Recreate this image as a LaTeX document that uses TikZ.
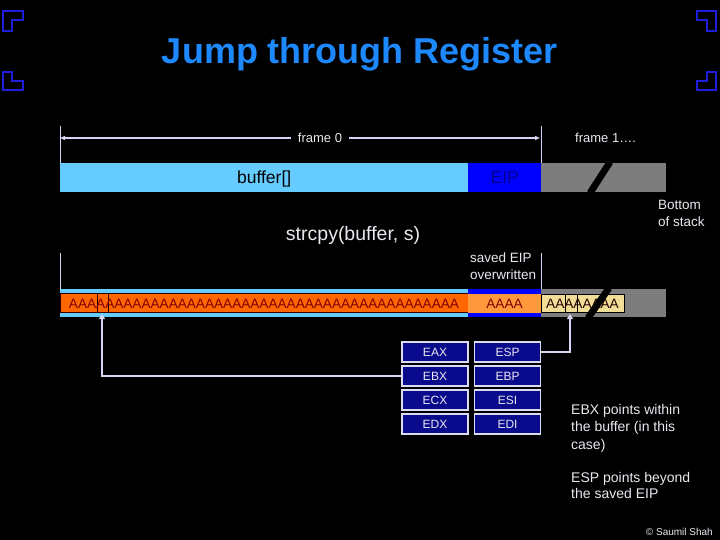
\documentclass[tikz,border=0pt]{standalone}
\usepackage{fontspec}
\setmainfont{Liberation Sans}
\usetikzlibrary{arrows.meta}
\definecolor{titleblue}{RGB}{30,136,255}
\definecolor{cornerblue}{RGB}{30,30,220}
\definecolor{lightblue}{RGB}{102,204,255}
\definecolor{eipblue}{RGB}{0,0,255}
\definecolor{eiptext}{RGB}{0,0,140}
\definecolor{stackgray}{RGB}{125,125,125}
\definecolor{orangeA}{RGB}{255,102,0}
\definecolor{orangeB}{RGB}{255,153,60}
\definecolor{yellowA}{RGB}{240,222,150}
\definecolor{redtext}{RGB}{128,0,0}
\definecolor{lavender}{RGB}{212,212,244}
\definecolor{regfill}{RGB}{10,10,140}
\definecolor{regline}{RGB}{220,220,240}
\definecolor{softwhite}{RGB}{232,232,240}
\tikzset{
  corner/.style={draw=cornerblue, line width=2pt, line join=miter},
  lbl/.style={inner sep=0pt, text depth=0pt, text=softwhite},
  fs/.style={font=\fontsize{#1}{#1}\selectfont, text height=#1*0.72pt},
  cell/.style={inner sep=0pt, anchor=north west, draw=none},
  abox/.style={draw=black!80!red, line width=0.6pt},
  atext/.style={lbl, text=redtext, fs=13.6},
  reg/.style={draw=regline, line width=1.2pt, fill=regfill, minimum width=66pt, minimum height=20pt, inner sep=0pt, text=softwhite, fs=12, text depth=0pt},
  conn/.style={draw=lavender, line width=1.6pt, -{Triangle[width=6pt,length=5pt]}},
  tick/.style={draw=lavender, line width=0.8pt},
  dim/.style={draw=lavender, line width=1.2pt, {Triangle[width=4pt,length=5pt]}-{Triangle[width=4pt,length=5pt]}},
  slash/.style={line width=6.8pt, black}
}
\begin{document}
\begin{tikzpicture}[x=1pt,y=-1pt]
\useasboundingbox (0,0) rectangle (720,540);
\fill[black] (0,0) rectangle (720,540);

% corner brackets
\draw[corner] (3,11) -- (23,11) -- (23,20) -- (12,20) -- (12,31) -- (3,31) -- cycle;
\draw[corner] (3,72) -- (12,72) -- (12,81) -- (23,81) -- (23,90) -- (3,90) -- cycle;
\draw[corner] (716,11) -- (697,11) -- (697,20) -- (707,20) -- (707,31) -- (716,31) -- cycle;
\draw[corner] (716,72) -- (707,72) -- (707,81) -- (697,81) -- (697,90) -- (716,90) -- cycle;

% title
\node[lbl, text=titleblue, fs=36, font=\fontsize{36}{40}\selectfont\bfseries] (title) at (360,51) {Jump through Register};

% frame dimension
\coordinate (d0) at (60,138);
\coordinate (d1) at (540,138);
\draw[tick] (60,126) -- (60,163);
\draw[tick] (541,126) -- (541,163);
\draw[dim] (d0) -- (d1);
\node[lbl, fs=13, fill=black, inner xsep=7pt, inner ysep=2pt] (frame0) at (320,138) {frame 0};
\node[lbl, fs=13, anchor=west] (frame1) at (575,138) {frame 1….};

% top stack bar
\node[cell, fill=lightblue, minimum width=408pt, minimum height=29pt] (buffer) at (60,163) {};
\node[lbl, fs=17.5, text=black] (buftxt) at (buffer.center) {buffer[]};
\node[cell, fill=eipblue, minimum width=73pt, minimum height=29pt] (eip) at (468,163) {};
\node[lbl, fs=17.5, text=eiptext] (eiptxt) at (eip.center) {EIP};
\node[cell, fill=stackgray, minimum width=125pt, minimum height=29pt] (frame1bar) at (541,163) {};
\begin{scope}
  \clip (541,163) rectangle (666,192);
  \draw[slash] (590,193) -- (610,162);
\end{scope}

\node[lbl, fs=13.5, anchor=west] (bot1) at (658,205) {Bottom};
\node[lbl, fs=13.5, anchor=west] (bot2) at (658,222) {of stack};

\node[lbl, fs=19.5] (strcpy) at (353,233) {strcpy(buffer, s)};

% lower ticks
\draw[tick] (60,253) -- (60,289);
\draw[tick] (541,253) -- (541,289);
\node[lbl, fs=13.5, anchor=west] (sav1) at (470,258) {saved EIP};
\node[lbl, fs=13.5, anchor=west] (sav2) at (470,275) {overwritten};

% lower bar
\node[cell, fill=lightblue, minimum width=408pt, minimum height=28pt] (buf2) at (60,289) {};
\fill[orangeA] (60,293.7) rectangle (468,312.7);
\draw[abox] (60,293.7) rectangle (468,312.7);
\draw[abox] (97,293.7) rectangle (108,312.7);
\node[atext] (fillA) at (264,303.2) {AAAAAAAAAAAAAAAAAAAAAAAAAAAAAAAAAAAAAAAAAAA};

\node[cell, fill=eipblue, minimum width=73pt, minimum height=28pt] (eip2) at (468,289) {};
\fill[orangeB] (468,294) rectangle (541,312.7);
\node[atext] (eipA) at (504.5,303.2) {AAAA};

\node[cell, fill=stackgray, minimum width=125pt, minimum height=28pt] (gray2) at (541,289) {};
\fill[yellowA] (541,294) rectangle (624,312.7);
\draw[black, line width=0.6pt] (541,294) rectangle (624,312.7);
\draw[black, line width=0.6pt] (565,294) rectangle (577,312.7);
\node[atext, text=black!85!red] (beyondA) at (582.5,303.2) {AAAAAAAA};
\begin{scope}
  \clip (541,289) rectangle (666,317);
  \draw[slash] (588,318) -- (609,288);
\end{scope}

% registers
\node[reg] (eax) at (435,352) {EAX};
\node[reg] (esp) at (507.5,352) {ESP};
\node[reg] (ebx) at (435,376) {EBX};
\node[reg] (ebp) at (507.5,376) {EBP};
\node[reg] (ecx) at (435,400) {ECX};
\node[reg] (esi) at (507.5,400) {ESI};
\node[reg] (edx) at (435,424) {EDX};
\node[reg] (edi) at (507.5,424) {EDI};

% connectors
\coordinate (ebxT) at (102,314);
\coordinate (espT) at (570,314);
\draw[conn] (ebx.west) -| (ebxT);
\draw[conn] (esp.east) -| (espT);

% notes
\node[lbl, fs=14, anchor=west] (n1) at (571,409) {EBX points within};
\node[lbl, fs=14, anchor=west] (n2) at (571,426.5) {the buffer (in this};
\node[lbl, fs=14, anchor=west] (n3) at (571,444) {case)};
\node[lbl, fs=14, anchor=west] (n4) at (571,477) {ESP points beyond};
\node[lbl, fs=14, anchor=west] (n5) at (571,493.5) {the saved EIP};

\node[lbl, fs=10, anchor=east] (copy) at (713,532) {© Saumil Shah};
\end{tikzpicture}
\end{document}
